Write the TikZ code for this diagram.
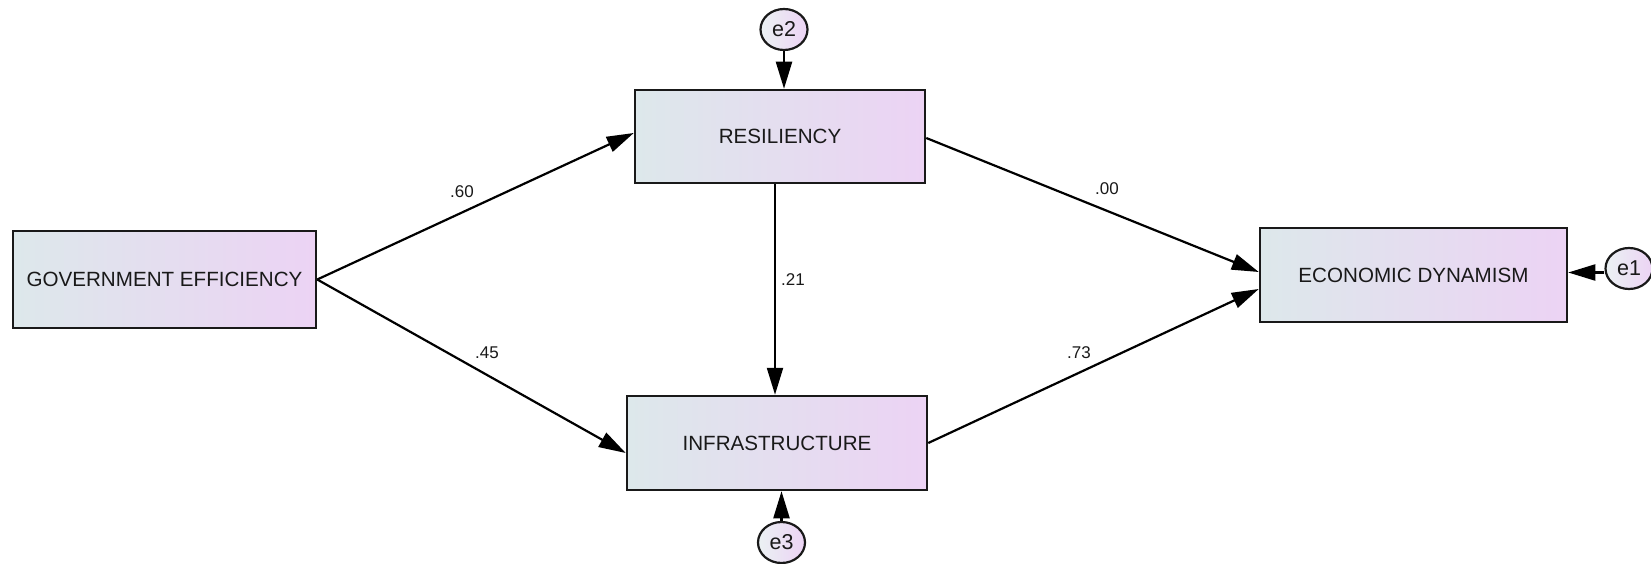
\documentclass[tikz,border=0pt]{standalone}
\usepackage{fontspec}
\setmainfont{Liberation Sans}
\usetikzlibrary{arrows.meta,calc,shapes.geometric}
\definecolor{gl}{RGB}{221,232,235}
\definecolor{gr}{RGB}{236,211,244}
\definecolor{txt}{RGB}{25,25,25}
\tikzset{
  varbox/.style={draw=black!90,line width=2.5pt,left color=gl,right color=gr,inner sep=0pt,text=txt,font=\fontsize{20.6}{24}\selectfont},
  errnode/.style={draw=black!90,ellipse,line width=2.2pt,left color=gl!60!white,right color=gr,inner sep=0pt,minimum width=47pt,minimum height=41pt,text=txt,font=\fontsize{21.5}{25}\selectfont},
  arr/.style={line width=2.2pt,-{Triangle[length=27pt,width=16pt]}},
  coef/.style={font=\fontsize{17}{20}\selectfont,text=txt,inner sep=0pt}
}
\begin{document}
\begin{tikzpicture}[x=1pt,y=-1pt]
\useasboundingbox (0,0) rectangle (1651,564);
\node[varbox,minimum width=303pt,minimum height=97pt] (ge) at (164.5,279.5) {GOVERNMENT EFFICIENCY};
\node[varbox,minimum width=290pt,minimum height=93pt] (res) at (780,136.5) {RESILIENCY};
\node[varbox,minimum width=300pt,minimum height=94pt] (inf) at (777,443) {INFRASTRUCTURE};
\node[varbox,minimum width=307pt,minimum height=94pt] (ed) at (1413.5,275) {ECONOMIC DYNAMISM};
\node[errnode] (e2) at (784,29.5) {e2};
\node[errnode] (e3) at (781.5,542.5) {e3};
\node[errnode] (e1) at (1629,268.5) {e1};
\draw[arr] (ge.east) -- ($(res.west)+(0,-3.5)$);
\draw[arr] (ge.east) -- ($(inf.west)+(0,10)$);
\draw[arr] ($(res.east)+(0,1.5)$) -- ($(ed.west)+(0,-3)$);
\draw[arr] (inf.east) -- ($(ed.west)+(0,14)$);
\draw[arr] ($(res.south)+(-5,0)$) -- ($(inf.north)+(-2,0)$);
\draw[arr] (e2.south) -- (e2.south |- res.north);
\draw[arr] (e3.north) -- (e3.north |- inf.south);
\draw[arr] ($(e1.west)+(0,4)$) -- ($(ed.east |- e1.west)+(0,4)$);
\node[coef] (c1) at (462,192) {.60};
\node[coef] (c2) at (487,353) {.45};
\node[coef] (c3) at (1107,189) {.00};
\node[coef] (c4) at (1079,353) {.73};
\node[coef] (c5) at (793,280) {.21};
\end{tikzpicture}
\end{document}
